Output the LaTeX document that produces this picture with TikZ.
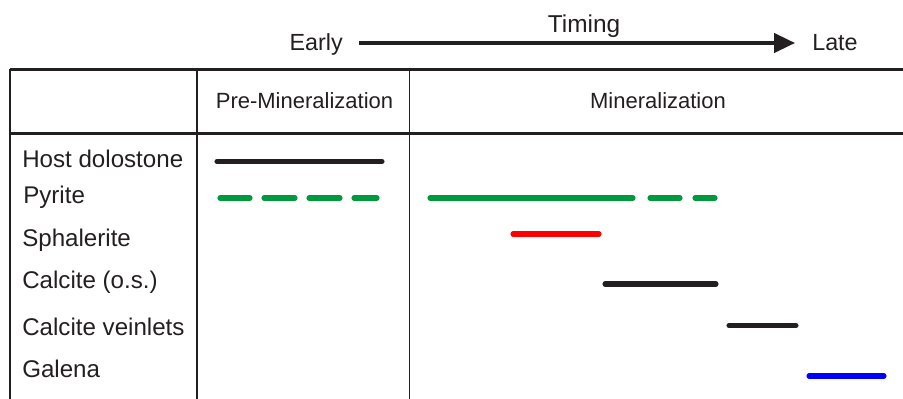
\documentclass[tikz,border=0pt]{standalone}
\usepackage{fontspec}
\setmainfont{Liberation Sans}
\usetikzlibrary{arrows.meta}
\definecolor{barblack}{HTML}{231F20}
\definecolor{bargreen}{HTML}{009A3E}
\begin{document}
\begin{tikzpicture}[x=0.75pt,y=-0.75pt,
  lbl/.style={anchor=base west,inner sep=0pt,font=\fontsize{18.1}{21}\selectfont,text=barblack},
  hdr/.style={anchor=base,inner sep=0pt,font=\fontsize{16.5}{19}\selectfont,text=barblack},
  hline/.style={draw=barblack,line width=1.7pt},
  vline/.style={draw=barblack,line width=1.25pt},
  bar/.style={line width=3.8pt,line cap=round},
  ]
\useasboundingbox (0,0) rectangle (903,399);
% timing arrow
\node[lbl,anchor=base east,font=\fontsize{17.5}{20}\selectfont] (early) at (343,51) {Early};
\node[lbl,font=\fontsize{17.5}{20}\selectfont] (late) at (812,51) {Late};
\node[lbl,anchor=base,font=\fontsize{18.3}{21}\selectfont] (timing) at (584,33) {Timing};
\coordinate (a0) at (359,43);
\coordinate (a1) at (795,43);
\draw[barblack,line width=2.5pt,-{Triangle[length=15.75pt,width=14.5pt]}] (a0) -- (a1);
% table
\draw[hline] (10,69.5) -- (903,69.5);
\draw[hline] (10,133.5) -- (903,133.5);
\draw[vline] (10,69.5) -- (10,399);
\draw[vline] (197,69.5) -- (197,399);
\draw[vline] (409.5,69.5) -- (409.5,399);
% headers
\node[hdr] (pre) at (304.5,109) {Pre-Mineralization};
\node[hdr] (min) at (658,109) {Mineralization};
% row labels
\node[lbl] (host) at (22,168) {Host dolostone};
\node[lbl] (pyr) at (23,204) {Pyrite};
\node[lbl] (sph) at (22,246) {Sphalerite};
\node[lbl] (cos) at (22,288) {Calcite (o.s.)};
\node[lbl] (cvl) at (22,335) {Calcite veinlets};
\node[lbl] (gal) at (22,377) {Galena};
% bars
\draw[bar,barblack] (217,161.5) -- (382,161.5);
\draw[bar,bargreen] (220,198) -- (250,198);
\draw[bar,bargreen] (264,198) -- (295,198);
\draw[bar,bargreen] (309,198) -- (340,198);
\draw[bar,bargreen] (354,198) -- (377,198);
\draw[bar,bargreen] (430,198) -- (633,198);
\draw[bar,bargreen] (650,198) -- (680,198);
\draw[bar,bargreen] (695,198) -- (715,198);
\draw[bar,red] (513,234) -- (599,234);
\draw[bar,barblack] (605,284) -- (716,284);
\draw[bar,barblack] (729,325.5) -- (796,325.5);
\draw[bar,blue] (809,376) -- (884,376);
\end{tikzpicture}
\end{document}
